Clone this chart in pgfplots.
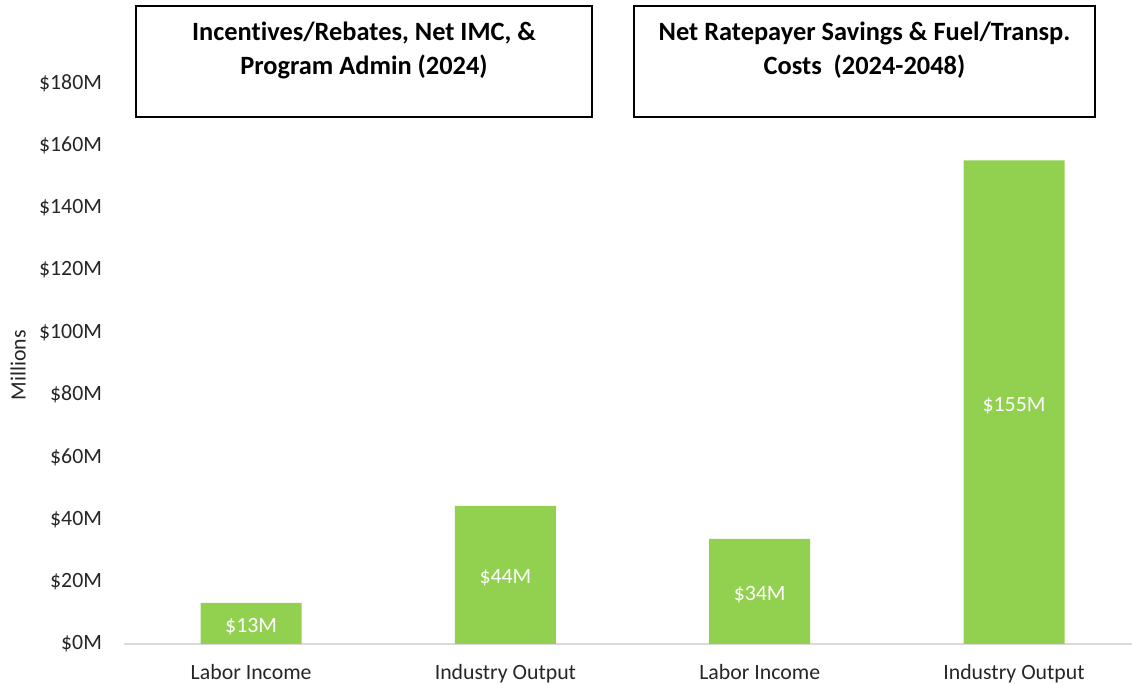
\documentclass[border=0pt]{standalone}
\usepackage{pgfplots}
\pgfplotsset{compat=1.18}
\usepackage{fontspec}
\setmainfont{Carlito}[Ligatures=NoCommon]
\definecolor{barg}{HTML}{92D050}
\definecolor{axg}{HTML}{D9D9D9}
\definecolor{txt}{HTML}{262626}
\begin{document}
\begin{tikzpicture}
\useasboundingbox (-62pt,-20.5pt) rectangle (504pt,322pt);
\begin{axis}[
  at={(0pt,0pt)}, anchor=south west,
  scale only axis, width=504pt, height=322pt,
  xmin=-0.5, xmax=3.464, ymin=0, ymax=206.7,
  axis x line*=bottom, axis y line*=left,
  x axis line style={draw=axg, line width=0.6pt, -},
  y axis line style={draw=none},
  major tick length=0pt,
  xtick={0,1,2,3},
  xticklabels={Labor Income, Industry Output, Labor Income, Industry Output},
  ytick={0,20,...,180},
  yticklabel={\$\pgfmathprintnumber{\tick}M},
  /pgf/number format/assume math mode=true,
  tick label style={font=\fontsize{10.9}{12}\selectfont, text=txt},
  xticklabel style={yshift=-6.8pt},
  yticklabel style={xshift=-7.5pt},
  ylabel={Millions},
  ylabel style={at={(axis description cs:-0.105,0.433)}, anchor=center, font=\fontsize{10.9}{12}\selectfont, text=txt},
  clip=false,
]
\addplot[ybar, bar width=50.5pt, fill=barg, draw=none,
  point meta=y,
  visualization depends on={y \as \rawy},
  nodes near coords={\$\pgfmathprintnumber[fixed,precision=0]{\pgfplotspointmeta}M},
  every node near coord/.style={anchor=center, text=white, font=\fontsize{10.9}{12}\selectfont, shift={(axis direction cs:0,-\rawy/2)}, yshift=-1.5pt},
] coordinates {(0,13.2) (1,44.3) (2,33.7) (3,155.2)};
\end{axis}
\draw[line width=0.75pt] (6pt,263.5pt) rectangle (234pt,319pt);
\draw[line width=0.75pt] (255pt,263.5pt) rectangle (485.5pt,319pt);
\node[align=center, font=\bfseries\fontsize{13.2}{17}\selectfont] at (120pt,297pt) {Incentives/Rebates, Net IMC, \&\\Program Admin (2024)};
\node[align=center, font=\bfseries\fontsize{13.2}{17}\selectfont] at (370.25pt,297pt) {Net Ratepayer Savings \& Fuel/Transp.\\Costs~~(2024-2048)};
\end{tikzpicture}
\end{document}
